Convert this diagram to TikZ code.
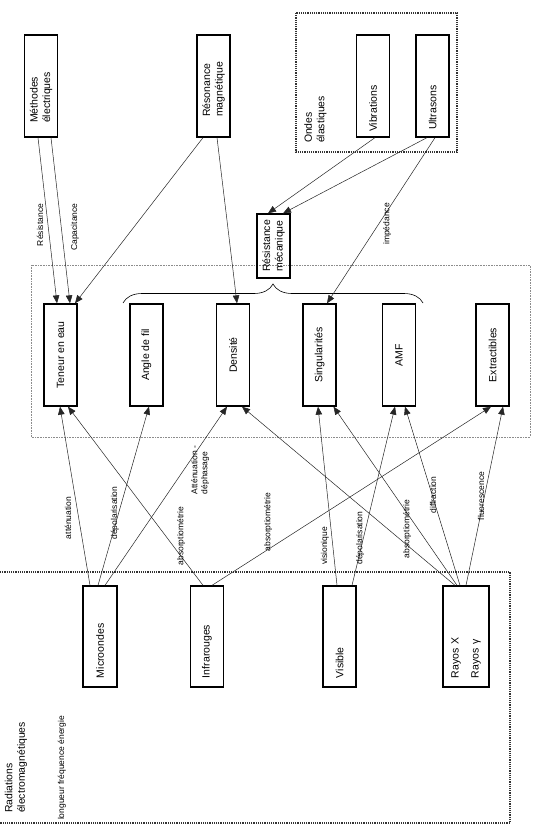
\documentclass[tikz,border=0pt]{standalone}
\usepackage{fontspec}
\setmainfont{Liberation Sans}
\usetikzlibrary{arrows.meta,decorations.pathreplacing}
\begin{document}
\begin{tikzpicture}[x=1pt,y=-1pt,
  box/.style={draw=black, line width=1.3pt, rotate=90, minimum height=33pt,
    minimum width=102pt, inner sep=0pt, align=center,
    font=\fontsize{10.5}{12.5}\selectfont},
  lbox/.style 2 args={box, inner xsep=#1, text width=#2, align=left},
  lbl/.style={rotate=90, inner sep=0pt, font=\fontsize{8.5}{10}\selectfont},
  grplbl/.style={rotate=90, inner sep=0pt, align=left, font=\fontsize{10.4}{12.5}\selectfont},
  conn/.style={draw=black!85, line width=0.5pt, -{Triangle[length=8pt,width=6.5pt]}},
  strong dots/.style={draw=black!80, densely dotted, line width=1.2pt},
  light dots/.style={draw=black!45, densely dotted, line width=0.6pt}
]
\useasboundingbox (0,0) rectangle (533,834);
\fill[white] (0,0) rectangle (533,834);

% groups
\draw[strong dots] (296,13) rectangle (457,152);
\draw[light dots] (31,265) rectangle (530,437);
\draw[strong dots] (0,572) -- (510,572) -- (510,823) -- (0,823);

% group labels
\node[grplbl] (ondeslbl) at (315.5,119.5) {Ondes\\élastiques};
\node[grplbl] (radlbl) at (16,767.5) {Radiations\\électromagnétiques};
\node[lbl] (lfe) at (62,768) {longueur fréquence énergie};

% top boxes
\node[lbox={14pt}{74pt}] (meth) at (41,86) {Méthodes\\électriques};
\node[lbox={20pt}{62pt}] (reso) at (213.5,86) {Résonance\\magnétique};
\node[lbox={5pt}{92pt}] (vib) at (373,86) {Vibrations};
\node[lbox={7pt}{88pt}] (ultra) at (432.5,86) {Ultrasons};
\node[box, minimum width=64pt] (resmec) at (273.5,246) {Résistance\\mécanique};

% middle boxes
\node[box] (ten) at (60.5,355) {Teneur en eau};
\node[box] (ang) at (146.5,355) {Angle de fil};
\node[box] (dens) at (233,355) {Densité};
\node[box] (sing) at (319.5,355) {Singularités};
\node[box] (amf) at (399,355) {AMF};
\node[box] (extr) at (492.5,355) {Extractibles};

% bottom boxes
\node[lbox={9pt}{83pt}, minimum width=101pt, minimum height=34pt] (micro) at (100,636.5) {Microondes};
\node[lbox={9pt}{83pt}, minimum width=101pt] (infra) at (207,636.5) {Infrarouges};
\node[lbox={9pt}{83pt}, minimum width=101pt] (visi) at (339.5,636.5) {Visible};
\node[lbox={9pt}{83pt}, minimum width=101pt, minimum height=46pt] (rayos) at (466,636.5) {Rayos X\\[7.5pt]Rayos γ};

% brace
\coordinate (braceL) at (123,303);
\coordinate (braceR) at (423,303);
\draw[decorate, decoration={brace, amplitude=19pt}, line width=0.6pt] (braceL) -- (braceR);

% top connectors
\draw[conn] ([xshift=-3pt]meth.west) -- ([xshift=-3.5pt]ten.east);
\draw[conn] ([xshift=10pt]meth.west) -- ([xshift=9.5pt]ten.east);
\draw[conn] ([xshift=-10.5pt]reso.west) -- ([xshift=14.5pt]ten.east);
\draw[conn] ([xshift=3.5pt]reso.west) -- ([xshift=4pt]dens.east);
\draw[conn] ([xshift=2pt]vib.west) -- ([xshift=-5.5pt]resmec.east);
\draw[conn] ([xshift=-5.5pt]ultra.west) -- ([xshift=9.5pt]resmec.east);
\draw[conn] ([xshift=2.5pt]ultra.west) -- ([xshift=7.5pt]sing.east);

% bottom connectors
\draw[conn] ([xshift=-10pt]micro.east) -- ([xshift=-0.5pt]ten.west);
\draw[conn] ([xshift=-2pt]micro.east) -- ([xshift=2.5pt]ang.west);
\draw[conn] ([xshift=5pt]micro.east) -- ([xshift=-6pt]dens.west);
\draw[conn] ([xshift=-4pt]infra.east) -- ([xshift=7.5pt]ten.west);
\draw[conn] ([xshift=5pt]infra.east) -- ([xshift=-1.5pt]extr.west);
\draw[conn] ([xshift=-2.5pt]visi.east) -- ([xshift=-1.5pt]sing.west);
\draw[conn] ([xshift=12.5pt]visi.east) -- ([xshift=-4pt]amf.west);
\draw[conn] ([xshift=-11pt]rayos.east) -- ([xshift=9pt]dens.west);
\draw[conn] ([xshift=-9pt]rayos.east) -- ([xshift=14pt]sing.west);
\draw[conn] ([xshift=-6pt]rayos.east) -- ([xshift=6pt]amf.west);
\draw[conn] ([xshift=0pt]rayos.east) -- ([xshift=10.5pt]extr.west);

% connector labels
\node[lbl] (l1) at (40,225) {Résistance};
\node[lbl] (l2) at (75,227) {Capacitance};
\node[lbl] (l3) at (387,224) {impédance};
\node[lbl] (l4) at (68,518) {atténuation};
\node[lbl] (l5) at (115,513) {dépolarisation};
\node[lbl, align=left] (l6) at (200,470) {Atténuation -\\déphasage};
\node[lbl] (l7) at (181,536) {absorptiométrie};
\node[lbl] (l8) at (268,522) {absorptiométrie};
\node[lbl] (l9) at (325,546) {visionique};
\node[lbl] (l10) at (360,538) {dépolarisation};
\node[lbl] (l11) at (407,529) {absorptiométrie};
\node[lbl] (l12) at (433,495) {diffraction};
\node[lbl] (l13) at (481,496) {fluorescence};
\end{tikzpicture}
\end{document}
